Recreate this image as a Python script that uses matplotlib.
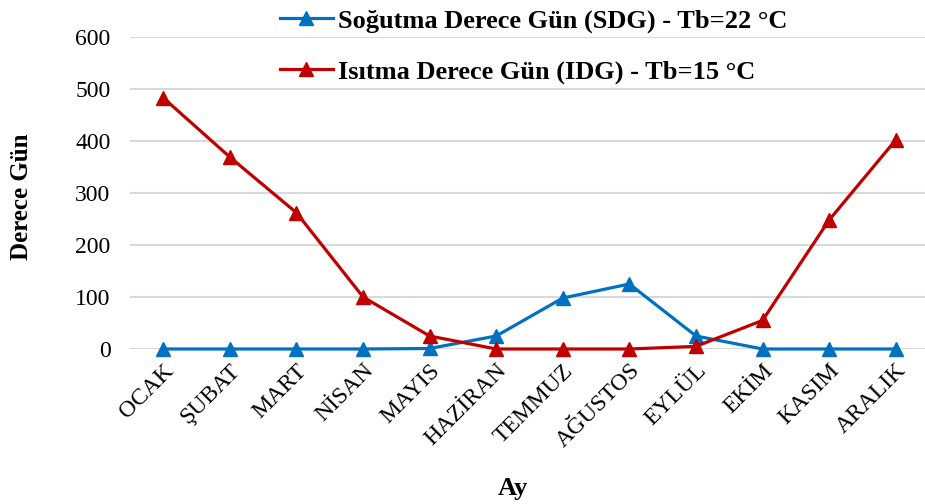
import numpy as np
import matplotlib
matplotlib.use('Agg')
import matplotlib.pyplot as plt

plt.rcParams['font.family'] = ['Liberation Serif', 'DejaVu Serif']

# Aylar ve derece gün değerleri
aylar = ['OCAK', 'ŞUBAT', 'MART', 'NİSAN', 'MAYIS', 'HAZİRAN', 'TEMMUZ',
         'AĞUSTOS', 'EYLÜL', 'EKİM', 'KASIM', 'ARALIK']
sdg = [0, 0, 0, 0, 1, 25, 98, 125, 25, 0, 0, 0]
idg = [483, 369, 262, 100, 25, 0, 0, 0, 5, 55, 248, 402]
yticks = [0, 100, 200, 300, 400, 500, 600]

fig = plt.figure(figsize=(9.25, 5.04), dpi=100)
ax = fig.add_axes([130 / 925, 155 / 504, 799 / 925, 312 / 504])

x = np.arange(len(aylar))
ax.plot(x, sdg, '-^', color='#0070C0', lw=2.3, ms=10, clip_on=False,
        zorder=3, label='Soğutma Derece Gün (SDG) - Tb=22 °C')
ax.plot(x, idg, '-^', color='#C00000', lw=2.3, ms=10, clip_on=False,
        zorder=4, label='Isıtma Derece Gün (IDG) - Tb=15 °C')

ax.set_xlim(-0.5, len(aylar) - 0.5)
ax.set_ylim(0, 600)
ax.set_yticks(yticks)
ax.set_yticklabels([str(v) for v in yticks], fontsize=17)
ax.set_xticks(x)
ax.set_xticklabels(aylar, rotation=45, ha='right', rotation_mode='anchor',
                   fontsize=17)
ax.tick_params(axis='y', length=0, pad=14)
ax.tick_params(axis='x', length=0, pad=8)
ax.grid(axis='y', color='#d9d9d9', lw=1.5)
ax.set_axisbelow(True)
for s in ax.spines.values():
    s.set_visible(False)

fig.text(22 / 925, 1 - 197 / 504, 'Derece Gün', rotation=90, ha='center',
         va='center', fontsize=18, fontweight='bold')
fig.text(513 / 925, 1 - 488 / 504, 'Ay', ha='center', va='center',
         fontsize=19, fontweight='bold')

leg = fig.legend(loc='upper left', bbox_to_anchor=(256 / 925, 1.03),
                 frameon=False, prop={'size': 19, 'weight': 'bold'},
                 handlelength=2.0, handletextpad=0.2, labelspacing=1.05,
                 markerscale=1.0)

plt.savefig('out.png', dpi=100)
